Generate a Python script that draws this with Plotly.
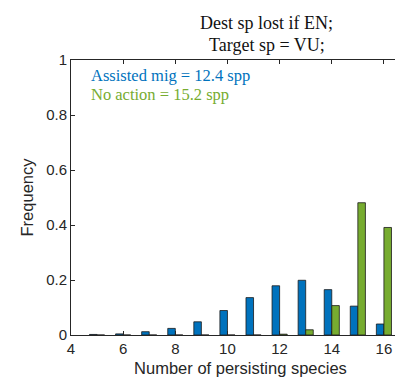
import plotly.graph_objects as go

species = [5, 6, 7, 8, 9, 10, 11, 12, 13, 14, 15, 16]
assisted_mig = [0.002, 0.004, 0.012, 0.024, 0.048, 0.089, 0.136, 0.179, 0.199, 0.165, 0.105, 0.040]
no_action = [0.0, 0.0, 0.0, 0.0, 0.0, 0.0, 0.0, 0.003, 0.019, 0.107, 0.481, 0.391]
x_ticks = [4, 6, 8, 10, 12, 14, 16]
y_ticks = [0, 0.2, 0.4, 0.6, 0.8, 1]
y_tick_labels = ["0", "0.2", "0.4", "0.6", "0.8", "1"]
title_lines = ["Dest sp lost if EN;", "Target sp = VU;"]
legend_lines = ["Assisted mig = 12.4 spp", "No action = 15.2 spp"]

blue = "#0072BD"
green = "#77AC30"
axis_col = "#262626"
serif = "Liberation Serif, DejaVu Serif, serif"

fig = go.Figure()
fig.add_trace(go.Bar(x=species, y=assisted_mig, name="Assisted mig",
                     marker=dict(color=blue, line=dict(color="#1a1a1a", width=0.8))))
fig.add_trace(go.Bar(x=species, y=no_action, name="No action",
                     marker=dict(color=green, line=dict(color="#1a1a1a", width=0.8))))

fig.update_layout(
    width=403, height=381,
    margin=dict(l=63, r=1, t=52, b=54),
    paper_bgcolor="white", plot_bgcolor="white",
    barmode="group", bargap=0.42, bargroupgap=0,
    showlegend=False,
    font=dict(family="Liberation Sans, Arial, sans-serif", color=axis_col, size=15),
)
fig.update_xaxes(range=[4, 17], tickvals=x_ticks, ticks="inside", ticklen=4,
                 showline=True, linecolor=axis_col, linewidth=1, mirror="ticks",
                 showgrid=False, zeroline=False, tickcolor=axis_col,
                 title=dict(text="Number of persisting species", font=dict(size=16.5), standoff=6))
fig.update_yaxes(range=[0, 1], tickvals=y_ticks, ticktext=y_tick_labels, ticks="inside", ticklen=4,
                 showline=True, linecolor=axis_col, linewidth=1, mirror="ticks",
                 showgrid=False, zeroline=False, tickcolor=axis_col,
                 title=dict(text="Frequency", font=dict(size=16.5), standoff=8))

H = 381.0
PH = H - 52 - 54


def ypaper(ypx):
    return 1 + (52 - ypx) / PH


for txt, ypx in zip(title_lines, [15, 37]):
    fig.add_annotation(x=0.578, y=ypaper(ypx), xref="paper", yref="paper",
                       xanchor="center", yanchor="middle", text=txt, showarrow=False,
                       font=dict(family=serif, size=18, color="#111111"))

for txt, col, ypx in zip(legend_lines, [blue, green], [67, 86]):
    fig.add_annotation(x=0.053, y=ypaper(ypx), xref="paper", yref="paper", xanchor="left", yanchor="middle",
                       text=txt, showarrow=False, font=dict(family=serif, size=16.5, color=col))

fig.write_html("out.html")
